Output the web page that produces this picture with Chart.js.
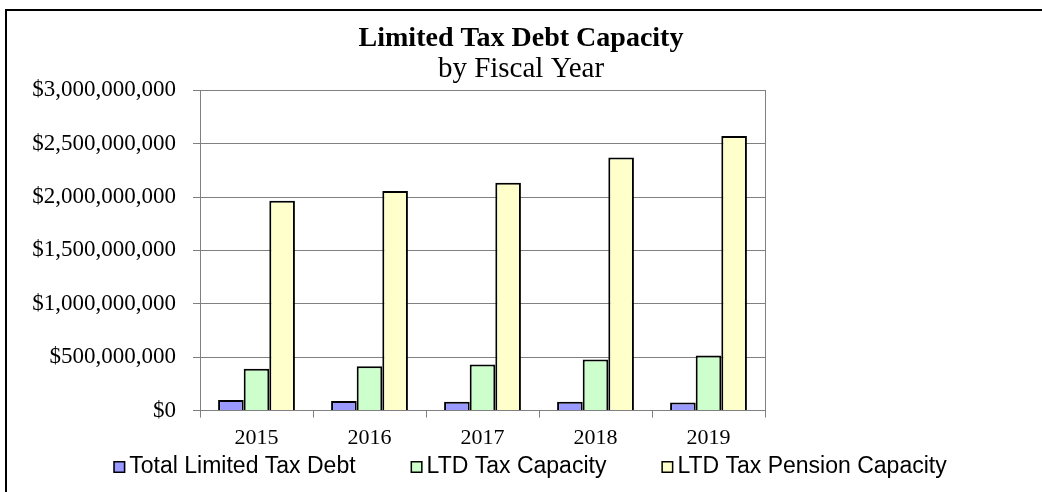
<!DOCTYPE html>
<html>
<head>
<meta charset="utf-8">
<title>Limited Tax Debt Capacity</title>
<script src="https://cdn.jsdelivr.net/npm/chart.js@4.4.0/dist/chart.umd.min.js"></script>
<style>
    html, body { margin: 0; padding: 0; background: #fff; }
    #wrap { position: relative; width: 1042px; height: 492px; }
</style>
</head>
<body>
<div id="wrap"><canvas id="myChart"></canvas></div>
<script>
const years = ['2015', '2016', '2017', '2018', '2019'];
const totalLimitedTaxDebt = [100000000, 91000000, 82000000, 82000000, 75000000];
const ltdTaxCapacity = [393000000, 416000000, 432000000, 478000000, 516000000];
const ltdTaxPensionCapacity = [1965000000, 2057000000, 2134000000, 2371000000, 2573000000];
const yTicks = [0, 500000000, 1000000000, 1500000000, 2000000000, 2500000000, 3000000000];

const serif = "'Liberation Serif', 'Times New Roman', serif";
const sans = "'Liberation Sans', Arial, sans-serif";
const gridGray = '#808080';

// outer frame: only top and left edges show in the picture
const framePlugin = {
    id: 'frame',
    afterDraw(chart) {
        const ctx = chart.ctx;
        ctx.save();
        ctx.strokeStyle = '#000';
        ctx.lineWidth = 2;
        ctx.beginPath();
        ctx.moveTo(6, 492);
        ctx.lineTo(6, 10);
        ctx.lineTo(1042, 10);
        ctx.stroke();
        ctx.restore();
    }
};

// Excel-style legend: small square, tight gap to the text, wide gaps between items
const excelLegend = {
    id: 'excelLegend',
    afterDraw(chart) {
        const ctx = chart.ctx;
        const box = 12;
        const gap = 4;
        const spacing = 55;
        const y = 467;
        ctx.save();
        ctx.font = '23px ' + sans;
        const items = chart.data.datasets.map((ds) => ({
            text: ds.label,
            color: ds.backgroundColor,
            w: box + gap + ctx.measureText(ds.label).width
        }));
        const total = items.reduce((s, it) => s + it.w, 0) + spacing * (items.length - 1);
        let x = 530 - total / 2;
        items.forEach((it) => {
            ctx.fillStyle = it.color;
            ctx.fillRect(x, y - 6, box, box);
            ctx.strokeStyle = '#000';
            ctx.lineWidth = 1.5;
            ctx.strokeRect(x + 0.75, y - 5.25, box - 1.5, box - 1.5);
            ctx.fillStyle = '#000';
            ctx.textBaseline = 'middle';
            ctx.textAlign = 'left';
            ctx.fillText(it.text, x + box + gap, y);
            x += it.w + spacing;
        });
        ctx.restore();
    }
};

const data = {
    labels: years,
    datasets: [{
        label: 'Total Limited Tax Debt',
        backgroundColor: '#9999FF',
        borderColor: '#000',
        borderWidth: 2,
        data: totalLimitedTaxDebt,
    }, {
        label: 'LTD Tax Capacity',
        backgroundColor: '#CCFFCC',
        borderColor: '#000',
        borderWidth: 2,
        data: ltdTaxCapacity,
    }, {
        label: 'LTD Tax Pension Capacity',
        backgroundColor: '#FFFFCC',
        borderColor: '#000',
        borderWidth: 2,
        data: ltdTaxPensionCapacity,
    }]
};

const config = {
    type: 'bar',
    data: data,
    plugins: [framePlugin, excelLegend],
    options: {
        responsive: false,
        animation: false,
        devicePixelRatio: 1,
        layout: { padding: { top: 26, bottom: 34, left: 0, right: 0 } },
        datasets: {
            bar: { categoryPercentage: 0.68, barPercentage: 1.0 }
        },
        plugins: {
            title: {
                display: true,
                text: 'Limited Tax Debt Capacity',
                color: '#000',
                font: { family: serif, size: 28, weight: 'bold', lineHeight: 0.9 },
                padding: { top: 0, bottom: 5 }
            },
            subtitle: {
                display: true,
                text: 'by Fiscal Year',
                color: '#000',
                font: { family: serif, size: 29, weight: 'normal', lineHeight: 0.9 },
                padding: { top: 0, bottom: 8 }
            },
            legend: { display: false },
            tooltip: { enabled: false }
        },
        scales: {
            x: {
                grid: {
                    display: true,
                    offset: true,
                    drawOnChartArea: false,
                    tickLength: 7,
                    color: gridGray
                },
                border: { display: true, color: gridGray, width: 1 },
                ticks: {
                    color: '#000',
                    font: { family: serif, size: 22 },
                    padding: 7,
                    maxRotation: 0
                }
            },
            y: {
                min: 0,
                max: 3000000000,
                afterBuildTicks(scale) {
                    scale.ticks = yTicks.map((v) => ({ value: v }));
                },
                afterFit(scale) {
                    scale.width = 200;
                },
                grid: { color: gridGray, tickLength: 7, lineWidth: 1 },
                border: { display: true, color: gridGray, width: 1 },
                ticks: {
                    color: '#000',
                    font: { family: serif, size: 23 },
                    padding: 17,
                    callback: (value) => '$' + Number(value).toLocaleString('en-US')
                }
            },
            yRight: {
                position: 'right',
                display: true,
                afterFit(scale) {
                    scale.width = 277;
                },
                grid: { drawOnChartArea: false, drawTicks: false },
                border: { display: true, color: gridGray, width: 1 },
                ticks: { display: false }
            }
        }
    }
};

const canvas = document.getElementById('myChart');
canvas.width = 1042;
canvas.height = 492;

const myChart = new Chart(canvas, config);
</script>
</body>
</html>
